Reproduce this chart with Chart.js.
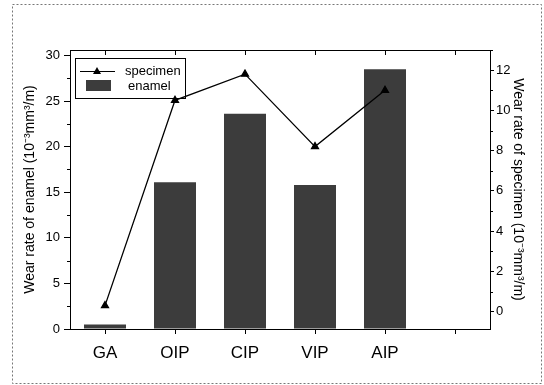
<!DOCTYPE html>
<html>
<head>
<meta charset="utf-8">
<script src="https://cdn.jsdelivr.net/npm/chart.js@4/dist/chart.umd.min.js"></script>
<style>
  html, body { margin: 0; padding: 0; background: #fff; }
  #wrap { width: 544px; height: 385px; position: relative; }
</style>
</head>
<body>
<div id="wrap"><canvas id="chart" width="544" height="385"></canvas></div>
<script>
var categories = ["GA", "OIP", "CIP", "VIP", "AIP", ""];
var enamel = [0.5, 16.1, 23.6, 15.8, 28.5, null];
var specimen = [0.3, 10.5, 11.8, 8.2, 11.0, null];
var leftTicks = [0, 5, 10, 15, 20, 25, 30];
var rightTicks = [0, 2, 4, 6, 8, 10, 12];

var font = "'Liberation Sans', Arial, sans-serif";

// frame, minor ticks, top ticks, outer dotted border, legend box
var decor = {
    id: "decor",
    beforeDraw: function (chart) {
        var c = chart.ctx;
        c.save();
        c.strokeStyle = "#777";
        c.lineWidth = 1;
        c.setLineDash([2, 2]);
        c.strokeRect(12.5, 4.5, 529, 379);
        c.restore();
    },
    afterDraw: function (chart) {
        var c = chart.ctx;
        var a = chart.chartArea;
        var x = chart.scales.x, y = chart.scales.y, y1 = chart.scales.y1;
        c.save();
        c.strokeStyle = "#000";
        c.lineWidth = 1;
        c.strokeRect(a.left + 0.5, a.top + 0.5, a.right - a.left, a.bottom - a.top);
        c.beginPath();
        // top ticks (inside)
        for (var i = 0; i < categories.length; i++) {
            var px = Math.round(x.getPixelForValue(i)) + 0.5;
            c.moveTo(px, a.top);
            c.lineTo(px, a.top + 5);
        }
        // left minor ticks
        for (var v = 2.5; v < 30; v += 5) {
            var py = Math.round(y.getPixelForValue(v)) + 0.5;
            c.moveTo(a.left, py);
            c.lineTo(a.left - 3, py);
        }
        // right minor ticks
        for (var w = -1; w <= 13; w += 2) {
            var py2 = y1.getPixelForValue(w);
            if (py2 < a.top || py2 > a.bottom) continue;
            py2 = Math.round(py2) + 0.5;
            c.moveTo(a.right, py2);
            c.lineTo(a.right + 3, py2);
        }
        c.stroke();

        // legend
        var lx = a.left + 5, ly = a.top + 8;
        c.strokeRect(lx + 0.5, ly + 0.5, 110, 40);
        c.beginPath();
        c.moveTo(lx + 5, ly + 13.5);
        c.lineTo(lx + 40, ly + 13.5);
        c.stroke();
        c.fillStyle = "#000";
        c.beginPath();
        c.moveTo(lx + 22, ly + 9);
        c.lineTo(lx + 26, ly + 16);
        c.lineTo(lx + 18, ly + 16);
        c.closePath();
        c.fill();
        c.fillStyle = "#3c3c3c";
        c.fillRect(lx + 11, ly + 22, 25, 11);
        c.fillStyle = "#000";
        c.font = "13px " + font;
        c.textBaseline = "middle";
        c.fillText("specimen", lx + 50, ly + 13);
        c.fillText("enamel", lx + 53, ly + 28);
        c.restore();
    }
};

new Chart(document.getElementById("chart"), {
    type: "bar",
    data: {
        labels: categories,
        datasets: [
            {
                type: "line",
                label: "specimen",
                data: specimen,
                yAxisID: "y1",
                borderColor: "#000",
                backgroundColor: "#000",
                borderWidth: 1.3,
                pointStyle: "triangle",
                pointRadius: 4,
                tension: 0,
                order: 0
            },
            {
                label: "enamel",
                data: enamel,
                yAxisID: "y",
                backgroundColor: "#3c3c3c",
                barPercentage: 0.6,
                categoryPercentage: 1,
                order: 1
            }
        ]
    },
    options: {
        responsive: false,
        animation: false,
        layout: { padding: { left: 22, right: 14, top: 50, bottom: 16 } },
        plugins: { legend: { display: false }, tooltip: { enabled: false } },
        scales: {
            x: {
                grid: { display: true, drawOnChartArea: false, offset: false, color: "#000", tickLength: 5 },
                border: { color: "#000" },
                ticks: { color: "#000", font: { family: font, size: 17 }, padding: 9, maxRotation: 0 },
                afterFit: function (s) { s.height = 40; }
            },
            y: {
                position: "left",
                min: 0,
                max: 30.6,
                afterBuildTicks: function (s) {
                    s.ticks = leftTicks.map(function (v) { return { value: v }; });
                },
                grid: { display: true, drawOnChartArea: false, color: "#000", tickLength: 6 },
                border: { color: "#000" },
                ticks: { color: "#000", font: { family: font, size: 13 }, padding: 4 },
                title: {
                    display: true,
                    text: "Wear rate of enamel (10\u207B\u00B3mm\u00B3/m)",
                    color: "#000",
                    font: { family: font, size: 14 },
                    padding: { top: 0, bottom: 4 }
                },
                afterFit: function (s) { s.width = 48; }
            },
            y1: {
                position: "right",
                min: -0.86,
                max: 13,
                afterBuildTicks: function (s) {
                    s.ticks = rightTicks.map(function (v) { return { value: v }; });
                },
                grid: { display: true, drawOnChartArea: false, color: "#000", tickLength: 4 },
                border: { color: "#000" },
                ticks: { color: "#000", font: { family: font, size: 13 }, padding: 2 },
                title: {
                    display: true,
                    text: "Wear rate of specimen (10\u207B\u00B3mm\u00B3/m)",
                    color: "#000",
                    font: { family: font, size: 14 },
                    padding: { top: 4, bottom: 0 }
                },
                afterFit: function (s) { s.width = 40; }
            }
        }
    },
    plugins: [decor]
});
</script>
</body>
</html>
